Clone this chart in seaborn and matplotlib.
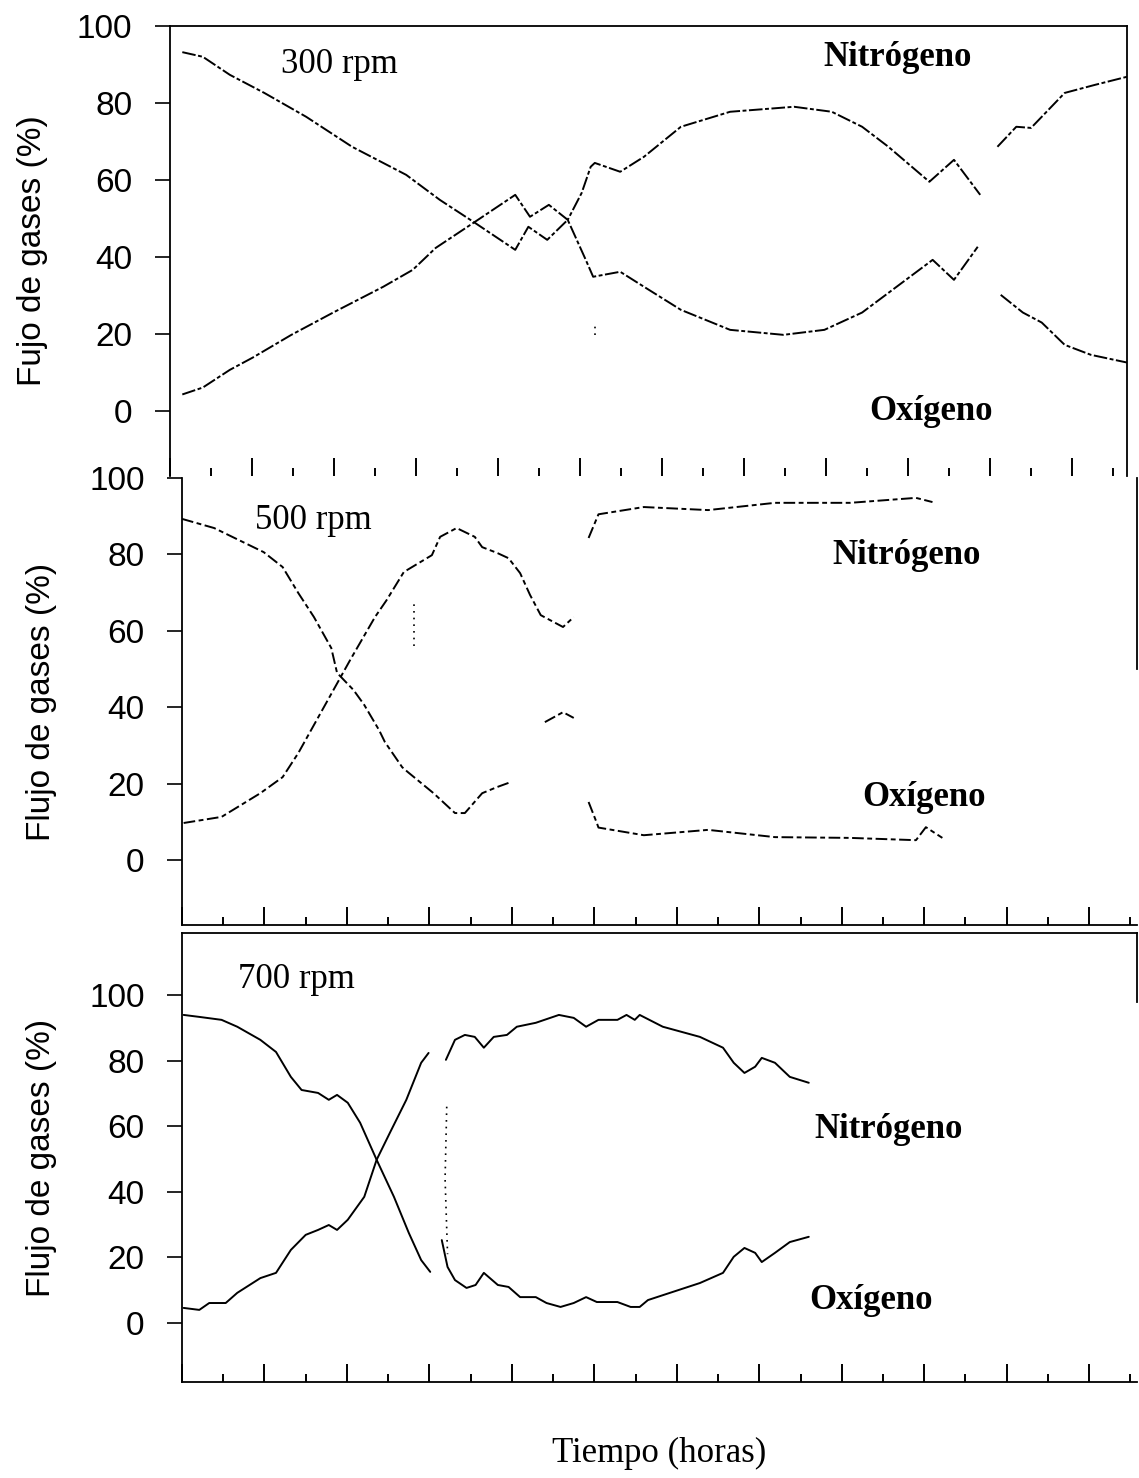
import numpy as np
import pandas as pd
import matplotlib
matplotlib.use("Agg")
import matplotlib.pyplot as plt
import seaborn as sns
from matplotlib.ticker import MultipleLocator

# Gas composition of the outlet stream (%) against time (h) at three agitation speeds.
# np.nan marks a break in the recorded trace.

# ---- 300 rpm ----
t_o2_300 = [0.15, 0.40, 0.73, 1.15, 1.66, 2.22, 2.88, 3.29, 3.72, 4.21, 4.37, 4.60, 4.85,
            5.07, 5.16, 5.49, 5.78, 6.23, 6.83, 7.48, 7.98, 8.44, 8.76, 9.30, 9.56, 9.85,
            9.95, 10.13, 10.40, 10.63, 10.91, 11.23, 11.67]
o2_300 = [93.2, 92.0, 87.3, 82.6, 76.4, 68.6, 61.3, 54.8, 48.8, 41.8, 47.8, 44.4, 49.6,
          39.2, 34.8, 36.1, 32.2, 26.2, 21.0, 19.7, 21.0, 25.5, 30.6, 39.2, 34.0, 42.6,
          np.nan, 30.1, 25.5, 22.9, 17.1, 14.5, 12.5]
t_n2_300 = [0.15, 0.40, 0.73, 1.01, 1.48, 1.99, 2.60, 2.96, 3.24, 3.72, 4.21, 4.39, 4.62,
            4.85, 5.02, 5.13, 5.18, 5.49, 5.78, 6.23, 6.83, 7.61, 8.07, 8.44, 8.76, 9.26,
            9.56, 9.88, 9.98, 10.09, 10.32, 10.50, 10.91, 11.28, 11.67]
n2_300 = [4.2, 6.0, 10.6, 13.8, 19.7, 25.5, 32.2, 36.6, 42.3, 49.1, 56.1, 50.4, 53.5,
          49.6, 56.6, 63.4, 64.4, 62.1, 66.0, 73.8, 77.7, 79.0, 77.7, 73.8, 68.6, 59.5,
          65.2, 56.1, np.nan, 68.6, 73.8, 73.5, 82.6, 84.7, 86.8]
t_jump_300 = [5.18, 5.18]
jump_300 = [19.7, 23.0]

# ---- 500 rpm ----
t_o2_500 = [0.00, 0.39, 0.99, 1.22, 1.41, 1.60, 1.81, 1.88, 2.08, 2.21, 2.39, 2.46, 2.67,
            2.74, 3.05, 3.31, 3.43, 3.64, 3.82, 3.96, 4.20, 4.40, 4.62, 4.75, 4.85, 4.93,
            5.03, 5.05, 5.60, 6.38, 7.19, 8.10, 8.90, 9.02, 9.22]
o2_500 = [89.3, 86.9, 80.6, 76.7, 69.9, 63.6, 55.5, 49.0, 44.5, 40.6, 34.0, 30.9, 24.3,
          23.0, 17.5, 12.3, 12.3, 17.5, 19.1, 20.2, np.nan, 36.1, 38.7, 37.2, np.nan, 15.2,
          9.7, 8.5, 6.5, 7.9, 6.0, 5.8, 5.2, 8.6, 5.8]
t_n2_500 = [0.02, 0.48, 0.95, 1.22, 1.41, 2.04, 2.34, 2.48, 2.69, 3.03, 3.13, 3.33, 3.55,
            3.64, 3.82, 3.96, 4.10, 4.22, 4.35, 4.62, 4.75, 4.85, 4.93, 5.05, 5.60, 6.38,
            7.19, 8.10, 8.90, 9.10]
n2_500 = [9.7, 11.3, 17.5, 21.7, 28.0, 52.4, 63.6, 68.0, 75.4, 79.8, 84.6, 86.9, 84.6,
          81.9, 80.4, 79.0, 75.1, 69.4, 64.1, 61.0, 63.6, np.nan, 84.3, 90.5, 92.4, 91.6,
          93.5, 93.5, 94.8, 93.7]
t_jump_500 = [2.81, 2.81]
jump_500 = [56.0, 68.0]

# ---- 700 rpm ----
t_o2_700 = [0.02, 0.21, 0.48, 0.67, 0.95, 1.14, 1.32, 1.45, 1.65, 1.78, 1.88, 2.01, 2.16,
            2.36, 2.57, 2.75, 2.90, 3.01, 3.08, 3.15, 3.22, 3.31, 3.45, 3.56, 3.66, 3.83,
            3.96, 4.10, 4.29, 4.42, 4.59, 4.75, 4.90, 5.03, 5.28, 5.44, 5.55, 5.65, 6.28,
            6.56, 6.69, 6.82, 6.95, 7.03, 7.19, 7.37, 7.60]
o2_700 = [94.0, 93.4, 92.5, 90.4, 86.4, 82.7, 75.1, 71.1, 70.2, 68.1, 69.6, 67.2, 61.1,
          49.8, 38.5, 27.5, 19.2, 15.6, np.nan, 25.3, 17.1, 13.1, 10.7, 11.6, 15.3, 11.6,
          11.0, 7.9, 7.9, 6.1, 4.9, 6.1, 7.9, 6.4, 6.4, 4.9, 4.9, 7.0, 12.2,
          15.3, 20.2, 22.9, 21.4, 18.6, 21.4, 24.7, 26.3]
t_n2_700 = [0.02, 0.21, 0.33, 0.53, 0.67, 0.95, 1.14, 1.32, 1.50, 1.65, 1.78, 1.88, 2.01,
            2.21, 2.36, 2.52, 2.72, 2.90, 2.99, 3.10, 3.20, 3.31, 3.43, 3.55, 3.66, 3.78,
            3.94, 4.06, 4.29, 4.57, 4.75, 4.90, 5.05, 5.28, 5.39, 5.49, 5.55, 5.83, 6.28,
            6.56, 6.69, 6.82, 6.95, 7.03, 7.19, 7.37, 7.60]
n2_700 = [4.6, 4.0, 6.1, 6.1, 9.2, 13.7, 15.3, 22.3, 26.9, 28.4, 29.9, 28.4, 31.5,
          38.5, 49.8, 58.0, 68.1, 79.4, 82.4, np.nan, 80.3, 86.4, 87.9, 87.3, 84.0, 87.3,
          87.9, 90.4, 91.6, 94.0, 93.1, 90.4, 92.5, 92.5, 94.0, 92.5, 94.0, 90.4, 87.3,
          84.0, 79.4, 76.3, 78.2, 80.9, 79.4, 75.1, 73.3]
t_jump_700 = [3.21, 3.19, 3.22]
jump_700 = [66.0, 44.0, 21.0]

speeds = ["300 rpm", "500 rpm", "700 rpm"]
y_labels = ["Fujo de gases (%)", "Flujo de gases (%)", "Flujo de gases (%)"]
y_ticks = [0, 20, 40, 60, 80, 100]


def to_frame(t, v, name):
    """Long-form table, one unit per unbroken piece of a trace."""
    rows, seg = [], 0
    for ti, vi in zip(t, v):
        if np.isnan(vi):
            seg += 1
            continue
        rows.append((f"{name}-{seg}", ti, vi))
    return pd.DataFrame(rows, columns=["unit", "hours", "pct"])


panels = [
    (pd.concat([to_frame(t_o2_300, o2_300, "O2"), to_frame(t_n2_300, n2_300, "N2")]),
     (t_jump_300, jump_300)),
    (pd.concat([to_frame(t_o2_500, o2_500, "O2"), to_frame(t_n2_500, n2_500, "N2")]),
     (t_jump_500, jump_500)),
    (pd.concat([to_frame(t_o2_700, o2_700, "O2"), to_frame(t_n2_700, n2_700, "N2")]),
     (t_jump_700, jump_700)),
]

sns.set_theme(style="white")
plt.rcParams["font.family"] = ["Liberation Sans", "DejaVu Sans"]
plt.rcParams["text.color"] = "black"
plt.rcParams["axes.labelcolor"] = "black"
plt.rcParams["xtick.color"] = "black"
plt.rcParams["ytick.color"] = "black"
SERIF = ["Liberation Serif", "DejaVu Serif"]

W, H = 1139, 1478
fig = plt.figure(figsize=(W / 100, H / 100), dpi=100)


def frac(left, right, top, bottom):
    return [left / W, 1 - bottom / H, (right - left) / W, (bottom - top) / H]


boxes = [frac(170, 1127, 26, 476), frac(182, 1137, 478, 925), frac(182, 1137, 933, 1382)]
xlims = [(0, 11.67), (0, 11.58), (0, 11.58)]
ylims = [(-17, 100), (-17, 100), (-18, 119)]
styles = [(0, (7, 1.3, 2, 1.3)), (0, (6, 1.8, 2.5, 1.8)), "-"]
label_x = [-0.128, -0.131, -0.131]

# label positions (hours, %) for each panel: speed, nitrogen, oxygen
text_pos = [
    [(2.07, 90.0), (8.87, 91.7), (9.28, -0.3)],
    [(1.59, 89.0), (8.79, 79.8), (9.00, 16.5)],
    [(1.39, 104.7), (8.57, 58.9), (8.36, 7.0)],
]

for i, (df, (tj, vj)) in enumerate(panels):
    ax = fig.add_axes(boxes[i])
    sns.lineplot(data=df, x="hours", y="pct", units="unit", estimator=None, sort=False,
                 color="black", linewidth=1.4, linestyle=styles[i], ax=ax)
    ax.plot(tj, vj, color="black", linewidth=1.2, linestyle=(0, (1, 3)))

    ax.set_xlim(*xlims[i])
    ax.set_ylim(*ylims[i])
    ax.set_yticks(y_ticks)
    ax.xaxis.set_major_locator(MultipleLocator(1))
    ax.xaxis.set_minor_locator(MultipleLocator(0.5))
    ax.tick_params(axis="y", direction="out", length=11, width=1.2, pad=16,
                   labelsize=24, colors="black", left=True)
    ax.tick_params(axis="x", which="major", direction="in", length=13, width=1.4,
                   bottom=True, labelbottom=False, colors="black")
    ax.tick_params(axis="x", which="minor", direction="in", length=6, width=1.4,
                   bottom=True, colors="black")
    ax.set_xlabel("")
    ax.set_ylabel(y_labels[i], fontsize=24, color="black")
    ax.yaxis.set_label_coords(label_x[i], 0.5)

    for s in ax.spines.values():
        s.set_color("black")
        s.set_linewidth(1.3)
    if i == 0:
        ax.spines["bottom"].set_visible(False)
    elif i == 1:
        ax.spines["top"].set_visible(False)
        ax.spines["right"].set_bounds(50, 100)
    else:
        ax.spines["right"].set_bounds(98, 119)

    (sx, sy), (nx, ny), (ox, oy) = text_pos[i]
    ax.text(sx, sy, speeds[i], family=SERIF, fontsize=25, ha="center", va="center",
            color="black")
    ax.text(nx, ny, "Nitrógeno", family=SERIF, fontsize=25, fontweight="bold",
            ha="center", va="center", color="black")
    ax.text(ox, oy, "Oxígeno", family=SERIF, fontsize=25, fontweight="bold",
            ha="center", va="center", color="black")

    if i == 2:
        ax.set_xlabel("Tiempo (horas)", family=SERIF, fontsize=25, labelpad=36,
                      color="black")

fig.savefig("out.png", dpi=100, facecolor="white")
